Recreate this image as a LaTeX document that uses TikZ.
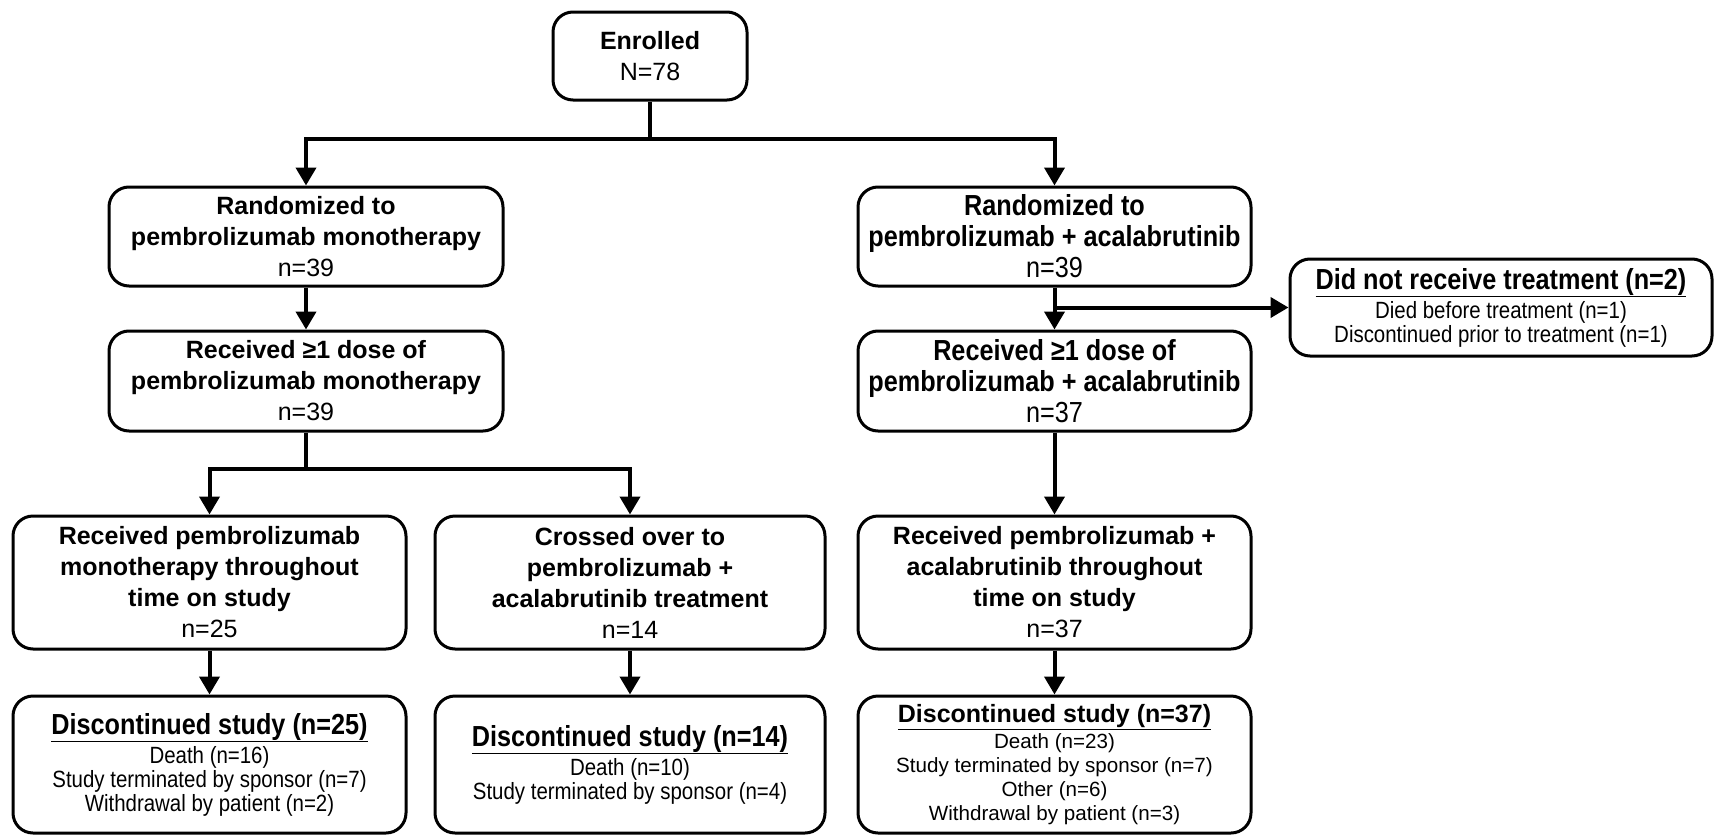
\documentclass[tikz,border=0pt]{standalone}
\usepackage{fontspec}
\setmainfont{Liberation Sans}
\newfontfamily\narrowfont[FakeStretch=0.87]{Liberation Sans}
\usepackage{tikz}
\usetikzlibrary{arrows.meta, positioning}

\newcommand{\bigtxt}{\fontsize{25}{31}\selectfont}
\newcommand{\smalltxt}{\fontsize{20.6}{24}\selectfont}
\newcommand{\narrowbig}{\narrowfont\fontsize{29}{31}\selectfont}
\newcommand{\narrowsmall}{\narrowfont\fontsize{23.5}{24}\selectfont}

\tikzset{
  flowbox/.style={draw, line width=3pt, rounded corners=20pt, align=center,
    inner sep=0pt, font=\bigtxt},
  link/.style={line width=4pt},
  arrow/.style={link, -{Triangle[length=18pt, width=20pt]}}
}

\begin{document}
\begin{tikzpicture}[x=1pt, y=-1pt]
    \useasboundingbox (0,0) rectangle (1714,835);

    % top
    \node[flowbox, minimum width=194pt, minimum height=88pt] (enrol) at (650,56)
        {\textbf{Enrolled}\\N=78};

    % randomisation
    \node[flowbox, minimum width=394pt, minimum height=99pt] (randL) at (306,236.5)
        {\textbf{Randomized to}\\\textbf{pembrolizumab monotherapy}\\n=39};
    \node[flowbox, minimum width=393pt, minimum height=99pt, font=\narrowbig] (randR) at (1054.5,236.5)
        {\textbf{Randomized to}\\\textbf{pembrolizumab + acalabrutinib}\\n=39};
    \node[flowbox, minimum width=422pt, minimum height=97pt, font=\narrowsmall] (dnr) at (1501,307.5)
        {{\narrowbig\underline{\textbf{Did not receive treatment (n=2)}}}\\[3pt]
         Died before treatment (n=1)\\Discontinued prior to treatment (n=1)};

    % first dose
    \node[flowbox, minimum width=394pt, minimum height=100pt] (doseL) at (306,381)
        {\textbf{Received ≥1 dose of}\\\textbf{pembrolizumab monotherapy}\\n=39};
    \node[flowbox, minimum width=393pt, minimum height=100pt, font=\narrowbig] (doseR) at (1054.5,381)
        {\textbf{Received ≥1 dose of}\\\textbf{pembrolizumab + acalabrutinib}\\n=37};

    % treatment arms
    \node[flowbox, minimum width=393pt, minimum height=133pt] (mono) at (209.5,582.5)
        {\textbf{Received pembrolizumab}\\\textbf{monotherapy throughout}\\\textbf{time on study}\\n=25};
    \node[flowbox, minimum width=390pt, minimum height=133pt] (cross) at (630,582.5)
        {\textbf{Crossed over to}\\\textbf{pembrolizumab +}\\\textbf{acalabrutinib treatment}\\n=14};
    \node[flowbox, minimum width=393pt, minimum height=133pt] (combo) at (1054.5,582.5)
        {\textbf{Received pembrolizumab +}\\\textbf{acalabrutinib throughout}\\\textbf{time on study}\\n=37};

    % discontinuation
    \node[flowbox, minimum width=393pt, minimum height=137pt, font=\narrowsmall] (discL) at (209.5,764.5)
        {{\narrowbig\underline{\textbf{Discontinued study (n=25)}}}\\[3pt]
         Death (n=16)\\Study terminated by sponsor (n=7)\\Withdrawal by patient (n=2)};
    \node[flowbox, minimum width=390pt, minimum height=137pt, font=\narrowsmall] (discM) at (630,764.5)
        {{\narrowbig\underline{\textbf{Discontinued study (n=14)}}}\\[3pt]
         Death (n=10)\\Study terminated by sponsor (n=4)};
    \node[flowbox, minimum width=393pt, minimum height=137pt, font=\smalltxt] (discR) at (1054.5,764.5)
        {{\bigtxt\underline{\textbf{Discontinued study (n=37)}}}\\[2pt]
         Death (n=23)\\Study terminated by sponsor (n=7)\\Other (n=6)\\Withdrawal by patient (n=3)};

    % connectors
    \coordinate (split1) at (650,139);
    \coordinate (split2) at (306,469);
    \draw[link] (enrol.south) -- (split1);
    \draw[arrow] (split1) -| (randL.north);
    \draw[arrow] (split1) -| (randR.north);
    \draw[arrow] (randL) -- (doseL);
    \draw[arrow] (randR) -- (doseR);
    \draw[arrow] (randR.south |- dnr.west) -- (dnr.west);
    \draw[link] (doseL.south) -- (split2);
    \draw[arrow] (split2) -| (mono.north);
    \draw[arrow] (split2) -| (cross.north);
    \draw[arrow] (doseR) -- (combo);
    \draw[arrow] (mono) -- (discL);
    \draw[arrow] (cross) -- (discM);
    \draw[arrow] (combo) -- (discR);
\end{tikzpicture}
\end{document}
